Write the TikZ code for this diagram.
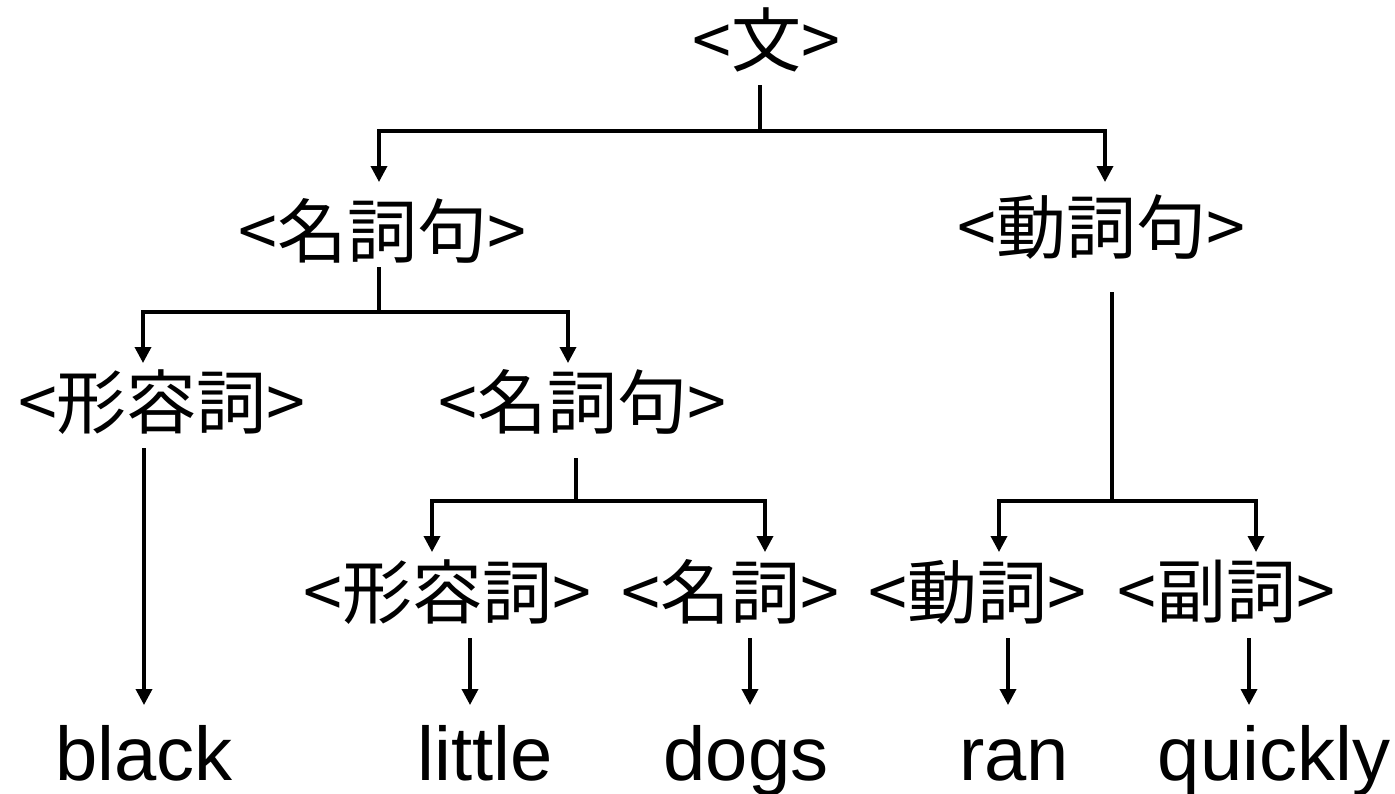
\documentclass[tikz,border=0pt]{standalone}
\usepackage{fontspec}
\setmainfont{Liberation Sans}
\newfontfamily\jpfont{Noto Sans CJK JP}
\usetikzlibrary{arrows.meta}
\begin{document}
\begin{tikzpicture}[x=1pt,y=-1pt,
  conn/.style={line width=3.5pt, draw=black},
  arr/.style={conn, -{Triangle[length=16pt,width=16pt]}},
  arrs/.style={conn, {Triangle[length=16pt,width=16pt]}-{Triangle[length=16pt,width=16pt]}},
  jp/.style={inner sep=0pt, font=\jpfont\fontsize{70}{80}\selectfont},
  en/.style={inner sep=0pt, anchor=base, font=\fontsize{76}{86}\selectfont}]
\useasboundingbox (0,0) rectangle (1395,793);
% labels
\node[jp] (s) at (766,40) {<文>};
\node[jp] (np) at (382,231) {<名詞句>};
\node[jp] (vp) at (1101,227) {<動詞句>};
\node[jp] (adja) at (162,402) {<形容詞>};
\node[jp] (npb) at (582,402) {<名詞句>};
\node[jp] (adjb) at (447,592) {<形容詞>};
\node[jp] (nn) at (730,592) {<名詞>};
\node[jp] (vv) at (977,592) {<動詞>};
\node[jp] (adv) at (1226,592) {<副詞>};
\node[en] (wblack) at (144,780) {black};
\node[en] (wlittle) at (485,780) {little};
\node[en] (wdogs) at (746,780) {dogs};
\node[en] (wran) at (1014,780) {ran};
\node[en] (wquick) at (1274,780) {quickly};
% junction points
\coordinate (s0) at (760,85);  \coordinate (sj) at (760,131);
\coordinate (npt) at (379,182); \coordinate (vpt) at (1105,182);
\coordinate (np0) at (379,267); \coordinate (npj) at (379,312);
\coordinate (adjat) at (143,363); \coordinate (npbt) at (568,363);
\coordinate (adja0) at (144,448); \coordinate (blackt) at (144,705);
\coordinate (vp0) at (1112,292); \coordinate (vpj) at (1112,501);
\coordinate (vvt) at (999,552); \coordinate (advt) at (1256,552);
\coordinate (npb0) at (576,458); \coordinate (npbj) at (576,501);
\coordinate (adjbt) at (432,552); \coordinate (nnt) at (765,552);
\coordinate (l0) at (470,638); \coordinate (lt) at (470,705);
\coordinate (d0) at (750,638); \coordinate (dt) at (750,705);
\coordinate (r0) at (1008,638); \coordinate (rt) at (1008,705);
\coordinate (q0) at (1249,638); \coordinate (qt) at (1249,705);
% connectors
\draw[conn] (s0) -- (sj);
\draw[arrs] (npt) |- (sj) -| (vpt);
\draw[conn] (np0) -- (npj);
\draw[arrs] (adjat) |- (npj) -| (npbt);
\draw[arr] (adja0) -- (blackt);
\draw[conn] (vp0) -- (vpj);
\draw[arrs] (vvt) |- (vpj) -| (advt);
\draw[conn] (npb0) -- (npbj);
\draw[arrs] (adjbt) |- (npbj) -| (nnt);
\draw[arr] (l0) -- (lt);
\draw[arr] (d0) -- (dt);
\draw[arr] (r0) -- (rt);
\draw[arr] (q0) -- (qt);
\end{tikzpicture}
\end{document}
